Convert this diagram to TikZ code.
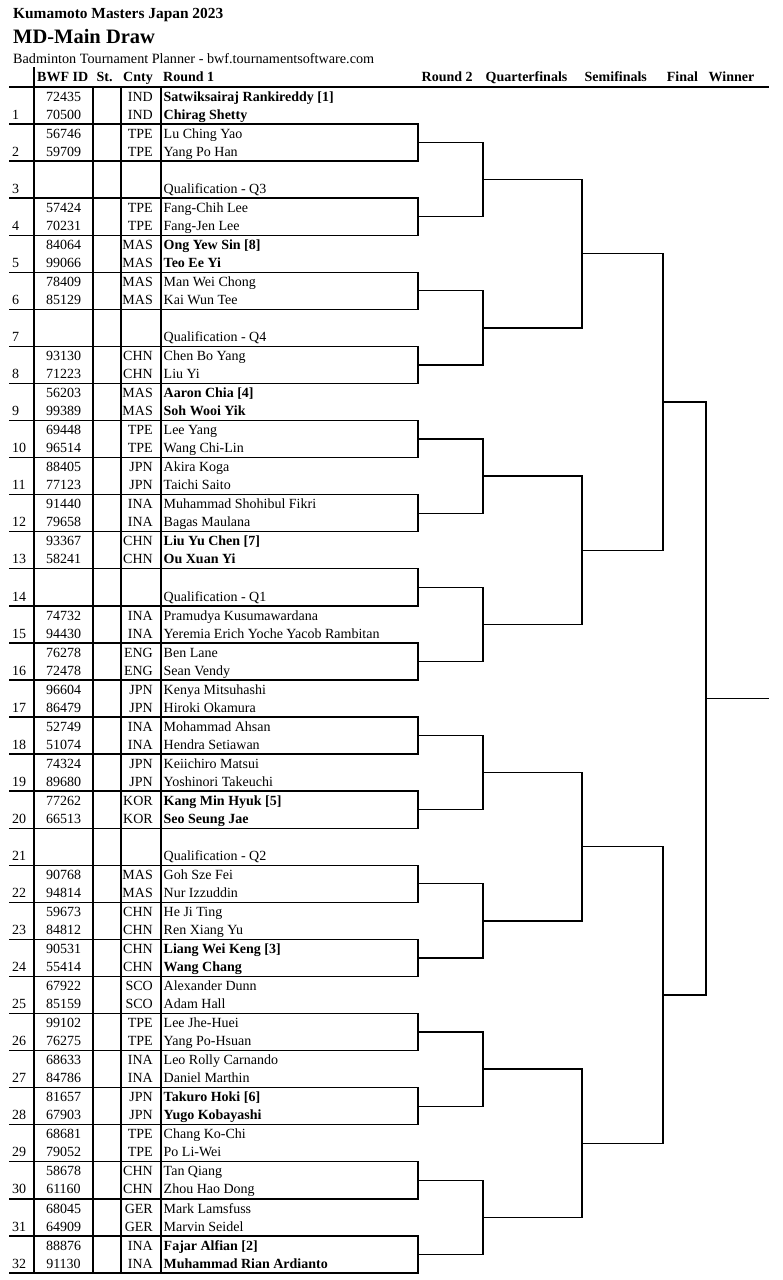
\documentclass[tikz,border=0pt]{standalone}
\usepackage{fontspec}
\setmainfont{Liberation Serif}
\usetikzlibrary{calc}

\newcommand{\rh}{37.06}
\newcommand{\ytop}{87}

\tikzset{
  tabline/.style={line width=1.4pt, line cap=rect},
  brkline/.style={line width=1.3pt, line cap=rect},
  celltext/.style={inner sep=0pt, font=\fontsize{14}{16}\selectfont},
  idtext/.style={celltext, anchor=base},
  cntytext/.style={celltext, anchor=base east},
  nametext/.style={celltext, anchor=base west},
  numtext/.style={celltext, anchor=base west},
  headtext/.style={inner sep=0pt, anchor=base west, font=\fontsize{14}{16}\selectfont\bfseries},
}

\begin{document}
\begin{tikzpicture}[x=1pt,y=-1pt]
\useasboundingbox (0,0) rectangle (783,1280);

\node (title) at (13,18.3) [anchor=base west, inner sep=0pt, font=\fontsize{15.4}{18}\selectfont\bfseries] {Kumamoto Masters Japan 2023};
\node (event) at (13,43.8) [anchor=base west, inner sep=0pt, font=\fontsize{20.5}{24}\selectfont\bfseries] {MD-Main Draw};
\node (planner) at (13,63.8) [anchor=base west, inner sep=0pt, font=\fontsize{14.2}{16}\selectfont] {Badminton Tournament Planner - bwf.tournamentsoftware.com};

% column heads
\node (hid) at (37,81.8) [headtext] {BWF ID};
\node (hst) at (96.5,81.8) [headtext] {St.};
\node (hcn) at (123,81.8) [headtext] {Cnty};
\node (hr1) at (163,81.8) [headtext] {Round 1};
\node (hr2) at (421.5,81.8) [headtext] {Round 2};
\node (hqf) at (485.5,81.8) [headtext] {Quarterfinals};
\node (hsf) at (584.5,81.8) [headtext] {Semifinals};
\node (hfi) at (666.7,81.8) [headtext] {Final};
\node (hwi) at (708.5,81.8) [headtext] {Winner};

% table
\draw[tabline] (10,\ytop) -- (768,\ytop);
\foreach \k in {1,...,32}
  \draw[tabline] (10,{\ytop+\k*\rh}) -- (418,{\ytop+\k*\rh});
\draw[tabline] (34,68) -- (34,{\ytop+32*\rh});
\foreach \x in {93,121,161}
  \draw[tabline] (\x,\ytop) -- (\x,{\ytop+32*\rh});
\foreach \k in {2,4,...,32}
  \draw[tabline] (418,{\ytop+(\k-1)*\rh}) -- (418,{\ytop+\k*\rh});

% entries
\foreach \k/\ida/\ca/\na/\idb/\cb/\nb/\bw in {
  1/72435/IND/Satwiksairaj Rankireddy [1]/70500/IND/Chirag Shetty/1,
  2/56746/TPE/Lu Ching Yao/59709/TPE/Yang Po Han/0,
  4/57424/TPE/Fang-Chih Lee/70231/TPE/Fang-Jen Lee/0,
  5/84064/MAS/Ong Yew Sin [8]/99066/MAS/Teo Ee Yi/1,
  6/78409/MAS/Man Wei Chong/85129/MAS/Kai Wun Tee/0,
  8/93130/CHN/Chen Bo Yang/71223/CHN/Liu Yi/0,
  9/56203/MAS/Aaron Chia [4]/99389/MAS/Soh Wooi Yik/1,
  10/69448/TPE/Lee Yang/96514/TPE/Wang Chi-Lin/0,
  11/88405/JPN/Akira Koga/77123/JPN/Taichi Saito/0,
  12/91440/INA/Muhammad Shohibul Fikri/79658/INA/Bagas Maulana/0,
  13/93367/CHN/Liu Yu Chen [7]/58241/CHN/Ou Xuan Yi/1,
  15/74732/INA/Pramudya Kusumawardana/94430/INA/Yeremia Erich Yoche Yacob Rambitan/0,
  16/76278/ENG/Ben Lane/72478/ENG/Sean Vendy/0,
  17/96604/JPN/Kenya Mitsuhashi/86479/JPN/Hiroki Okamura/0,
  18/52749/INA/Mohammad Ahsan/51074/INA/Hendra Setiawan/0,
  19/74324/JPN/Keiichiro Matsui/89680/JPN/Yoshinori Takeuchi/0,
  20/77262/KOR/Kang Min Hyuk [5]/66513/KOR/Seo Seung Jae/1,
  22/90768/MAS/Goh Sze Fei/94814/MAS/Nur Izzuddin/0,
  23/59673/CHN/He Ji Ting/84812/CHN/Ren Xiang Yu/0,
  24/90531/CHN/Liang Wei Keng [3]/55414/CHN/Wang Chang/1,
  25/67922/SCO/Alexander Dunn/85159/SCO/Adam Hall/0,
  26/99102/TPE/Lee Jhe-Huei/76275/TPE/Yang Po-Hsuan/0,
  27/68633/INA/Leo Rolly Carnando/84786/INA/Daniel Marthin/0,
  28/81657/JPN/Takuro Hoki [6]/67903/JPN/Yugo Kobayashi/1,
  29/68681/TPE/Chang Ko-Chi/79052/TPE/Po Li-Wei/0,
  30/58678/CHN/Tan Qiang/61160/CHN/Zhou Hao Dong/0,
  31/68045/GER/Mark Lamsfuss/64909/GER/Marvin Seidel/0,
  32/88876/INA/Fajar Alfian [2]/91130/INA/Muhammad Rian Ardianto/1} {
  \pgfmathsetmacro\ym{\ytop+(\k-0.5)*\rh}
  \node (num\k) at (12,{\ym+13.7}) [numtext] {\k};
  \node (id\k-a) at (63.5,{\ym-4.3}) [idtext] {\ida};
  \node (id\k-b) at (63.5,{\ym+13.7}) [idtext] {\idb};
  \node (cn\k-a) at (153,{\ym-4.3}) [cntytext] {\ca};
  \node (cn\k-b) at (153,{\ym+13.7}) [cntytext] {\cb};
  \node (nm\k-a) at (163.5,{\ym-4.3}) [nametext] {\ifnum\bw=1 \bfseries\fi\na};
  \node (nm\k-b) at (163.5,{\ym+13.7}) [nametext] {\ifnum\bw=1 \bfseries\fi\nb};
}
\foreach \k/\q in {3/Q3,7/Q4,14/Q1,21/Q2} {
  \pgfmathsetmacro\ym{\ytop+(\k-0.5)*\rh}
  \node (num\k) at (12,{\ym+13.7}) [numtext] {\k};
  \node (nm\k-b) at (163.5,{\ym+13.7}) [nametext] {Qualification - \q};
}

% bracket
\foreach \m in {1,...,16} {
  \coordinate (a1-\m) at (418,{\ytop+(2*\m-0.5)*\rh});
  \coordinate (b1-\m) at (483,{\ytop+(2*\m-0.5)*\rh});
  \draw[brkline] (a1-\m) -- (b1-\m);
}
\foreach \rnd/\cnt/\len in {2/8/99,3/4/81,4/2/43,5/1/62} {
  \pgfmathtruncatemacro\prv{\rnd-1}
  \foreach \m in {1,...,\cnt} {
    \pgfmathtruncatemacro\ia{2*\m-1}
    \pgfmathtruncatemacro\ib{2*\m}
    \draw[brkline] (b\prv-\ia) -- (b\prv-\ib);
    \coordinate (a\rnd-\m) at ($(b\prv-\ia)!0.5!(b\prv-\ib)$);
    \coordinate (b\rnd-\m) at ($(a\rnd-\m)+(\len,0)$);
    \draw[brkline] (a\rnd-\m) -- (b\rnd-\m);
  }
}

\end{tikzpicture}
\end{document}
